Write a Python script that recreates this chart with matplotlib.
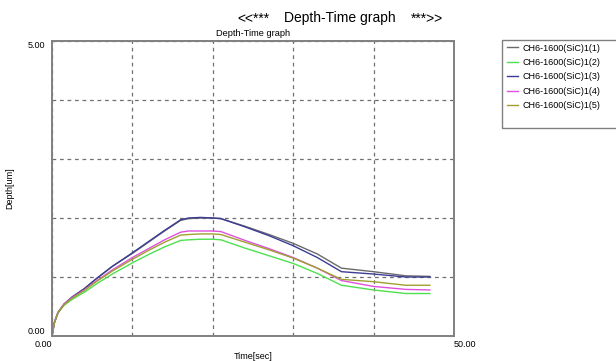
import matplotlib.pyplot as plt
from matplotlib.patches import Rectangle

plt.rcParams["font.family"] = ["Liberation Sans", "DejaVu Sans"]

# time axis [sec]
time = [0, 0.3, 0.75, 1.5, 2.5, 4, 5.5, 7.5, 10, 12, 14, 16, 17, 18.5, 20, 21,
        24, 27, 30, 33, 36, 40, 44, 47]

# depth [um] for each run
depth_1 = [0, 0.23, 0.40, 0.54, 0.66, 0.80, 0.97, 1.18, 1.40, 1.59, 1.78, 1.96,
           1.99, 2.00, 2.00, 1.99, 1.86, 1.72, 1.57, 1.39, 1.15, 1.09, 1.02, 1.01]
depth_2 = [0, 0.22, 0.39, 0.52, 0.62, 0.74, 0.88, 1.05, 1.24, 1.38, 1.51, 1.62,
           1.63, 1.64, 1.64, 1.63, 1.49, 1.36, 1.23, 1.06, 0.86, 0.78, 0.72, 0.72]
depth_3 = [0, 0.23, 0.40, 0.54, 0.66, 0.80, 0.97, 1.18, 1.41, 1.60, 1.79, 1.97,
           2.00, 2.01, 2.00, 1.99, 1.85, 1.70, 1.53, 1.33, 1.09, 1.05, 1.00, 1.00]
depth_4 = [0, 0.23, 0.40, 0.54, 0.65, 0.78, 0.93, 1.12, 1.33, 1.48, 1.63, 1.76,
           1.78, 1.78, 1.78, 1.77, 1.62, 1.48, 1.33, 1.15, 0.94, 0.84, 0.79, 0.78]
depth_5 = [0, 0.23, 0.40, 0.53, 0.64, 0.77, 0.92, 1.10, 1.30, 1.45, 1.59, 1.71,
           1.72, 1.73, 1.73, 1.72, 1.59, 1.46, 1.32, 1.15, 0.96, 0.92, 0.86, 0.86]

labels = ["CH6-1600(SiC)1(1)", "CH6-1600(SiC)1(2)", "CH6-1600(SiC)1(3)",
          "CH6-1600(SiC)1(4)", "CH6-1600(SiC)1(5)"]
colors = ["#6a6a6a", "#4fe04f", "#3c3c96", "#e050e0", "#a0a030"]

x_ticks = [0, 10, 20, 30, 40, 50]
x_ticklabels = ["0.00", "", "", "", "", "50.00"]
y_ticks = [0, 1, 2, 3, 4, 5]
y_ticklabels = ["0.00", "", "", "", "", "5.00"]

W, H = 616, 361
fig = plt.figure(figsize=(W / 100, H / 100), dpi=100)
ax = fig.add_axes([52 / W, 1 - 336 / H, 402 / W, 295 / H])

for d, c, lab in zip([depth_1, depth_2, depth_3, depth_4, depth_5], colors, labels):
    ax.plot(time, d, color=c, linewidth=1.0, label=lab)

ax.set_xlim(0, 50)
ax.set_ylim(0, 5)
ax.set_xticks(x_ticks, x_ticklabels, fontsize=6.5)
ax.set_yticks(y_ticks, y_ticklabels, fontsize=6.5)
ax.tick_params(length=0, colors="black")
ax.tick_params(axis="x", pad=3)
ax.tick_params(axis="y", pad=5)
xl = ax.get_xticklabels()
xl[0].set_ha("right")
xl[-1].set_ha("left")
yl = ax.get_yticklabels()
yl[0].set_va("bottom")
yl[-1].set_va("top")
ax.grid(True, color="#707070", linestyle=(0, (3, 3)), linewidth=0.9)
for s in ax.spines.values():
    s.set_color("#808080")
    s.set_linewidth(1.4)
    s.set_zorder(3)

ax.set_xlabel("Time[sec]", fontsize=6.5, labelpad=0)
ax.xaxis.set_label_coords(0.5, -16 / 295)
ax.set_ylabel("Depth[um]", fontsize=6.5)
ax.yaxis.set_label_coords(-38 / 402, 0.5)

fig.text(253 / W, 1 - 33 / H, "Depth-Time graph", fontsize=6.7,
         ha="center", va="center")
fig.text(253 / W, 1 - 18 / H, "<<***", fontsize=10, ha="center", va="center")
fig.text(340 / W, 1 - 18 / H, "Depth-Time graph", fontsize=10,
         ha="center", va="center")
fig.text(427 / W, 1 - 18 / H, "***>>", fontsize=10, ha="center", va="center")

fig.patches.append(Rectangle((502 / W, 1 - 128 / H), 140 / W, 88 / H,
                             transform=fig.transFigure, fill=False,
                             edgecolor="#808080", linewidth=1.0))
fig.legend(loc="upper left", bbox_to_anchor=(503 / W, 1 - 40 / H),
           frameon=False, fontsize=6.5, handlelength=1.3, handletextpad=0.5,
           labelspacing=0.6, borderaxespad=0, borderpad=0.4)

fig.savefig("out.png", dpi=100, facecolor="white")
